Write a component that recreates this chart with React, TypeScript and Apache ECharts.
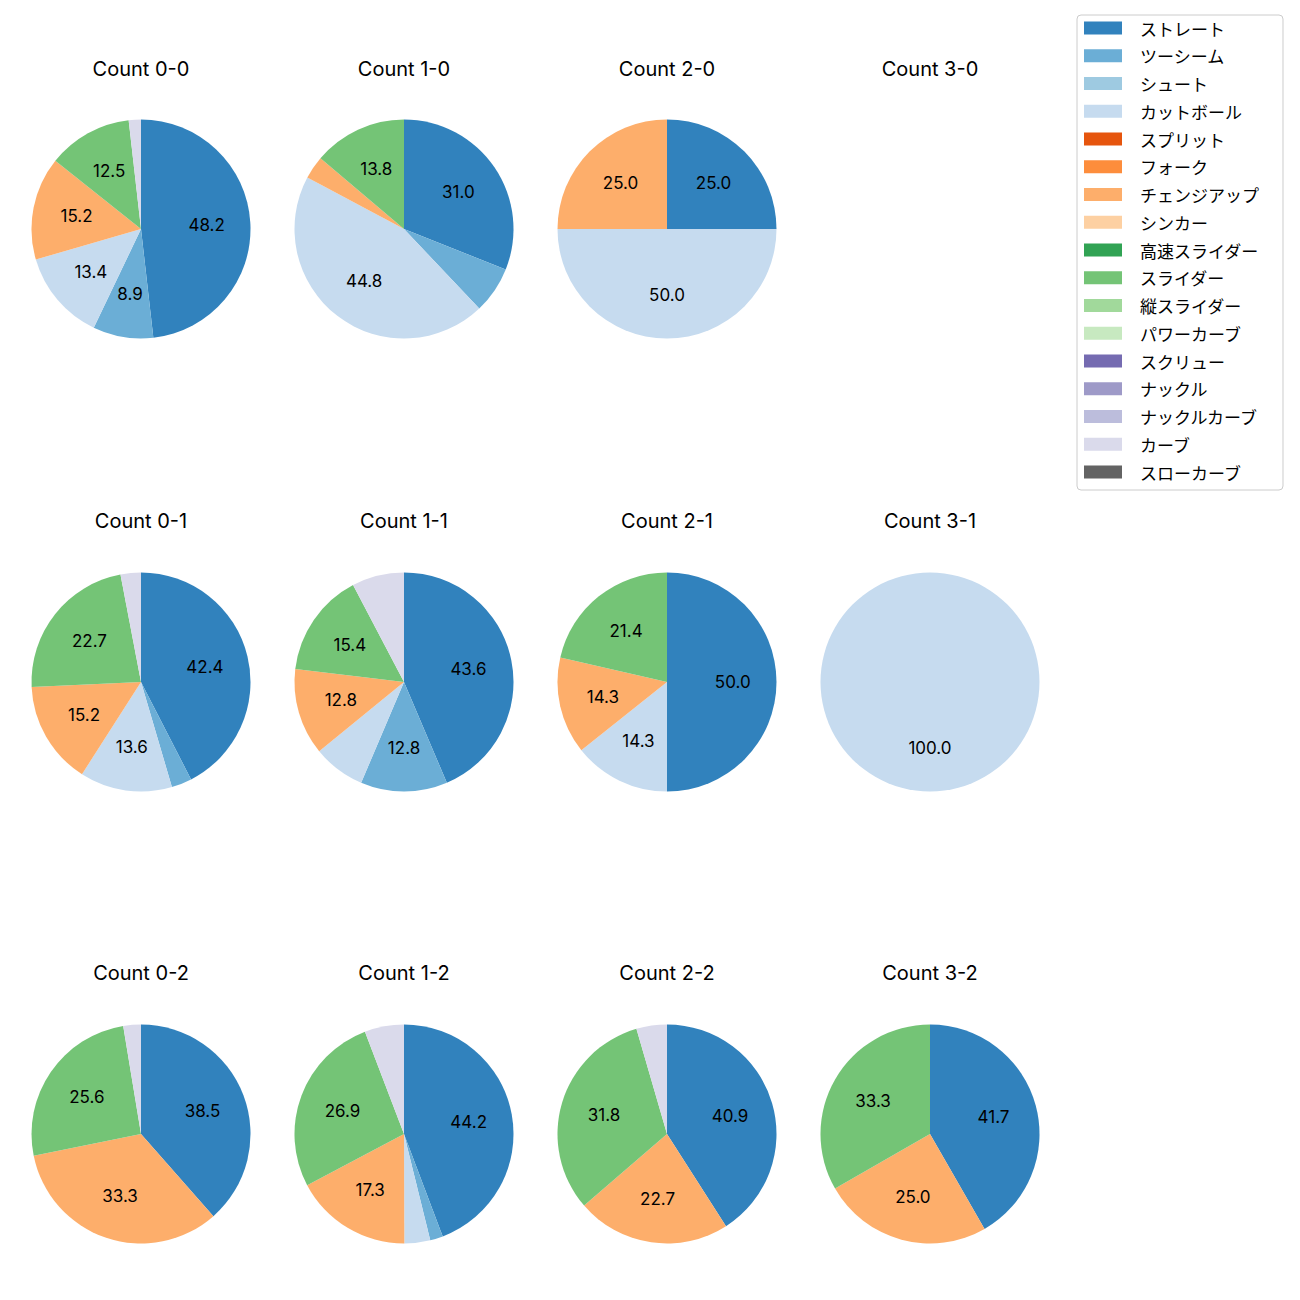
import React, { useEffect, useRef } from "react";
import * as echarts from "echarts";

const categories = [
  "ストレート", "ツーシーム", "シュート", "カットボール", "スプリット", "フォーク",
  "チェンジアップ", "シンカー", "高速スライダー", "スライダー", "縦スライダー",
  "パワーカーブ", "スクリュー", "ナックル", "ナックルカーブ", "カーブ", "スローカーブ",
];
const colors = [
  "#3182bd", "#6baed6", "#9ecae1", "#c6dbef", "#e6550d", "#fd8d3c",
  "#fdae6b", "#fdd0a2", "#31a354", "#74c476", "#a1d99b", "#c7e9c0",
  "#756bb1", "#9e9ac8", "#bcbddc", "#dadaeb", "#636363",
];

// percentages per category (same order as categories)
const count00 = [48.2, 8.9, 0, 13.4, 0, 0, 15.2, 0, 0, 12.5, 0, 0, 0, 0, 0, 1.8, 0];
const count10 = [31.0, 6.9, 0, 44.8, 0, 0, 3.4, 0, 0, 13.8, 0, 0, 0, 0, 0, 0, 0];
const count20 = [25.0, 0, 0, 50.0, 0, 0, 25.0, 0, 0, 0, 0, 0, 0, 0, 0, 0, 0];
const count30 = [0, 0, 0, 0, 0, 0, 0, 0, 0, 0, 0, 0, 0, 0, 0, 0, 0];
const count01 = [42.4, 3.0, 0, 13.6, 0, 0, 15.2, 0, 0, 22.7, 0, 0, 0, 0, 0, 3.0, 0];
const count11 = [43.6, 12.8, 0, 7.7, 0, 0, 12.8, 0, 0, 15.4, 0, 0, 0, 0, 0, 7.7, 0];
const count21 = [50.0, 0, 0, 14.3, 0, 0, 14.3, 0, 0, 21.4, 0, 0, 0, 0, 0, 0, 0];
const count31 = [0, 0, 0, 100.0, 0, 0, 0, 0, 0, 0, 0, 0, 0, 0, 0, 0, 0];
const count02 = [38.5, 0, 0, 0, 0, 0, 33.3, 0, 0, 25.6, 0, 0, 0, 0, 0, 2.6, 0];
const count12 = [44.2, 1.9, 0, 3.8, 0, 0, 17.3, 0, 0, 26.9, 0, 0, 0, 0, 0, 5.8, 0];
const count22 = [40.9, 0, 0, 0, 0, 0, 22.7, 0, 0, 31.8, 0, 0, 0, 0, 0, 4.5, 0];
const count32 = [41.7, 0, 0, 0, 0, 0, 25.0, 0, 0, 33.3, 0, 0, 0, 0, 0, 0, 0];

const panels = [
  { title: "Count 0-0", values: count00, col: 0, row: 0 },
  { title: "Count 1-0", values: count10, col: 1, row: 0 },
  { title: "Count 2-0", values: count20, col: 2, row: 0 },
  { title: "Count 3-0", values: count30, col: 3, row: 0 },
  { title: "Count 0-1", values: count01, col: 0, row: 1 },
  { title: "Count 1-1", values: count11, col: 1, row: 1 },
  { title: "Count 2-1", values: count21, col: 2, row: 1 },
  { title: "Count 3-1", values: count31, col: 3, row: 1 },
  { title: "Count 0-2", values: count02, col: 0, row: 2 },
  { title: "Count 1-2", values: count12, col: 1, row: 2 },
  { title: "Count 2-2", values: count22, col: 2, row: 2 },
  { title: "Count 3-2", values: count32, col: 3, row: 2 },
];

const FONT = "Inter, 'Noto Sans CJK JP', sans-serif";
const FONT_JP = "'Noto Sans CJK JP', sans-serif";
const colX = [141, 404, 667, 930];
const rowY = [229, 682, 1134];
const titleY = [69, 521, 973];
const R = 109.5;
const LABEL_R0 = 16;
const LABEL_MIN = 8;

export default function App() {
  const ref = useRef<HTMLDivElement>(null);
  useEffect(() => {
    if (!ref.current) return;
    const chart = echarts.init(ref.current, null, { renderer: "svg" });
    const titles: any[] = [];
    const series: any[] = [];
    panels.forEach((p) => {
      const cx = colX[p.col];
      const cy = rowY[p.row];
      titles.push({
        text: p.title,
        left: cx,
        top: titleY[p.row] - 10,
        textAlign: "center",
        padding: 0,
        textStyle: { fontFamily: FONT, fontSize: 20, fontWeight: "normal", color: "#000" },
      });
      const total = p.values.reduce((a, b) => a + b, 0);
      if (total <= 0) return;
      series.push({
        type: "pie",
        center: [cx, cy],
        radius: [0, R],
        startAngle: 90,
        clockwise: true,
        silent: true,
        avoidLabelOverlap: false,
        showEmptyCircle: false,
        label: { show: false },
        labelLine: { show: false },
        itemStyle: { borderWidth: 0 },
        emphasis: { disabled: true },
        data: categories.map((c, i) => ({
          name: c,
          value: p.values[i],
          itemStyle: { color: colors[i] },
        })),
      });
      series.push({
        type: "pie",
        center: [cx, cy],
        radius: [LABEL_R0, R],
        startAngle: 90,
        clockwise: true,
        silent: true,
        avoidLabelOverlap: false,
        showEmptyCircle: false,
        labelLine: { show: false },
        itemStyle: { borderWidth: 0, color: "rgba(0,0,0,0)" },
        emphasis: { disabled: true },
        data: categories.map((c, i) => ({
          name: "lbl_" + c,
          value: p.values[i],
          label: {
            show: (p.values[i] / total) * 100 >= LABEL_MIN,
            position: "inside",
            formatter: ((p.values[i] / total) * 100).toFixed(1),
            fontFamily: FONT,
            fontSize: 17,
            color: "#000",
          },
        })),
      });
    });
    chart.setOption({
      animation: false,
      backgroundColor: "#fff",
      title: titles,
      legend: {
        data: categories,
        orient: "vertical",
        left: 1077,
        top: 15,
        icon: "rect",
        itemWidth: 38,
        itemHeight: 13,
        itemGap: 7.75,
        padding: [3, 24, 8, 7],
        borderColor: "#cccccc",
        borderWidth: 1,
        borderRadius: 4,
        backgroundColor: "#fff",
        selectedMode: false,
        textStyle: {
          fontFamily: FONT_JP,
          fontSize: 17,
          color: "#000",
          lineHeight: 20,
          padding: [0, 0, 0, 13],
        },
      },
      series,
    });
    return () => chart.dispose();
  }, []);
  return (
    <div
      ref={ref}
      style={{ position: "absolute", left: 0, top: 0, width: 1300, height: 1300 }}
    />
  );
}
